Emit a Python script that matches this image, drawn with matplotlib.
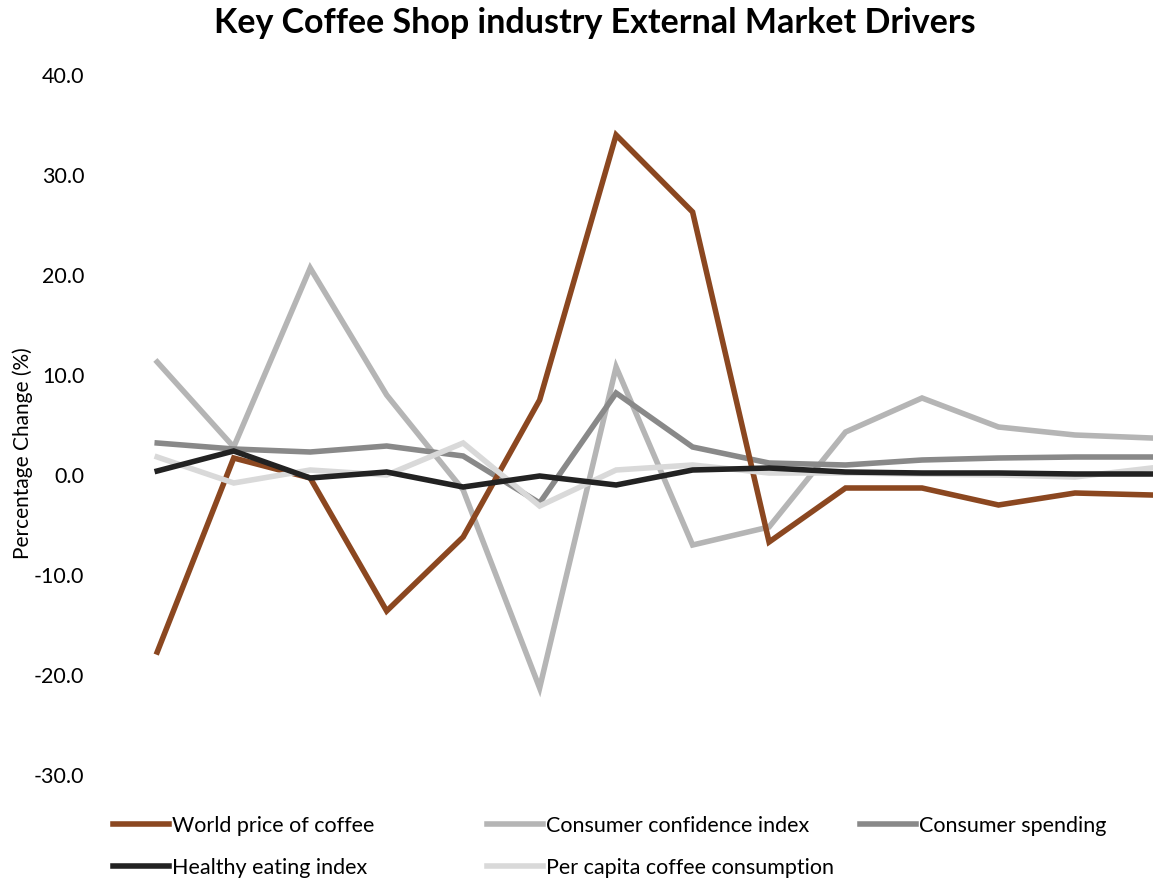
import matplotlib.pyplot as plt
import numpy as np

plt.rcParams['font.family'] = ['Lato', 'DejaVu Sans']

periods = list(range(14))
world_price = [-17.7, 1.7, -0.3, -13.6, -6.2, 7.5, 34.0, 26.3, -6.7, -1.3, -1.3, -3.0, -1.8, -2.0]
confidence = [11.3, 2.8, 20.7, 8.0, -1.5, -21.3, 10.8, -7.0, -5.2, 4.3, 7.7, 4.8, 4.0, 3.7]
spending = [3.2, 2.6, 2.3, 2.9, 1.9, -2.8, 8.2, 2.8, 1.2, 1.0, 1.5, 1.7, 1.8, 1.8]
healthy = [0.4, 2.4, -0.3, 0.3, -1.2, -0.1, -1.0, 0.5, 0.7, 0.3, 0.2, 0.2, 0.1, 0.1]
per_capita = [1.8, -0.8, 0.5, 0.0, 3.2, -3.1, 0.5, 1.0, 0.2, 0.2, 0.1, 0.0, -0.2, 0.7]

series = [world_price, confidence, spending, healthy, per_capita]
lab = ["World price of coffee", "Consumer confidence index", "Consumer spending",
       "Healthy eating index", "Per capita coffee consumption"]
col = ["#8B4720", "#B5B5B5", "#898989", "#222222", "#D9D9D9"]
zorder = [3, 2, 2, 4, 3]

fig = plt.figure(figsize=(11.53, 8.81), dpi=100)
ax = fig.add_axes([119/1153, 106/881, 1 - 119/1153, 700/881])

lines = []
for i in range(len(series)):
    l, = ax.plot(periods, series[i], color=col[i], lw=4.0, label=lab[i],
                 solid_joinstyle='miter', zorder=zorder[i])
    lines.append(l)

ax.set_ylim(-30, 40)
ax.set_xlim(-0.5, 13.02)
ax.set_yticks(np.arange(-30, 41, 10))
ax.set_yticklabels(["%.1f" % v for v in np.arange(-30, 41, 10)], fontsize=15.5)
ax.set_xticks([])
ax.tick_params(axis='y', length=0, pad=25)
for s in ax.spines.values():
    s.set_visible(False)
ax.set_ylabel("Percentage Change (%)", fontsize=15)
ax.yaxis.set_label_coords((33 - 119) / (1153 - 119), 0.46)

fig.suptitle("Key Coffee Shop industry External Market Drivers", fontsize=24.5,
             fontweight='bold', x=595/1153, y=0.992)

# legend, placed per entry to mimic evenly spaced slots
pos = [(113, 826), (487, 826), (860, 826), (113, 868), (487, 868)]
for i in range(len(lines)):
    x, y = pos[i]
    fig.legend(handles=[lines[i]], loc='center left',
               bbox_to_anchor=(x/1153, 1 - y/881), frameon=False,
               fontsize=15.5, handlelength=2.6, handletextpad=0.15,
               borderpad=0, borderaxespad=0)

plt.savefig("out.png", dpi=100)
